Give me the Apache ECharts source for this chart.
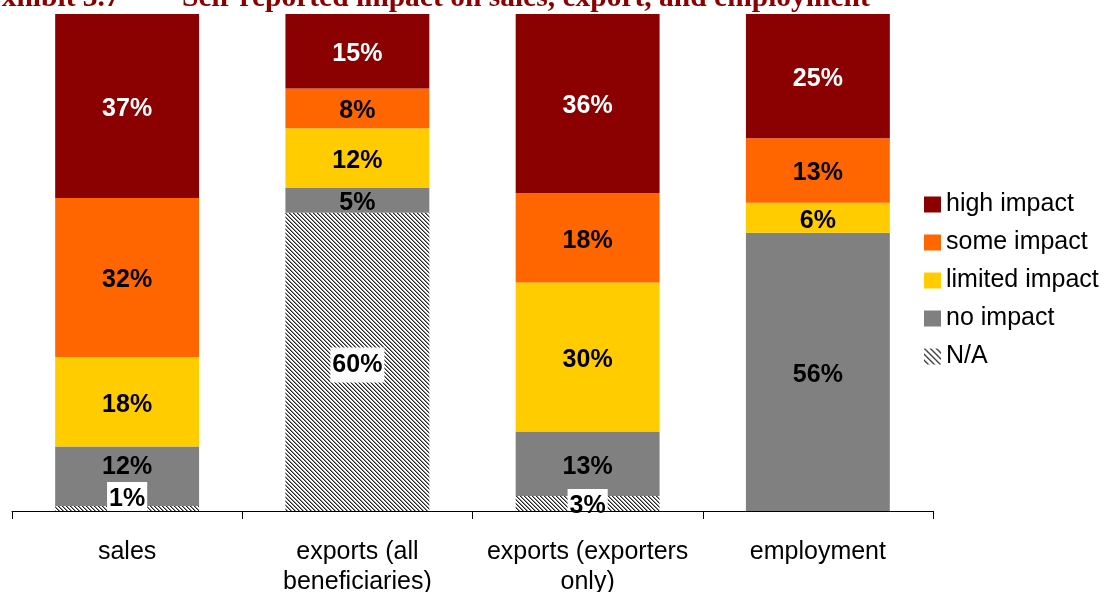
<!DOCTYPE html>
<html>
<head>
<meta charset="utf-8">
<script src="https://cdn.jsdelivr.net/npm/echarts@6/dist/echarts.min.js"></script>
<style>
  html, body { margin: 0; padding: 0; background: #fff; }
  #chart { width: 1105px; height: 592px; }
</style>
</head>
<body>
<div id="chart"></div>
<script>
// Shares of respondents (%) per impact level, bottom of stack first
const categories = ['sales', 'exports (all\nbeneficiaries)', 'exports (exporters\nonly)', 'employment'];
const naValues = [1, 60, 3, 0];
const noImpact = [12, 5, 13, 56];
const limitedImpact = [18, 12, 30, 6];
const someImpact = [32, 8, 18, 13];
const highImpact = [37, 15, 36, 25];
const legendOrder = ['high impact', 'some impact', 'limited impact', 'no impact', 'N/A'];

const FONT = '"Liberation Sans", Arial, sans-serif';
const TITLE_FONT = 'bold 29.5px "Liberation Serif", "Times New Roman", serif';

// Diagonal hatch used for the N/A segments
function makeHatch(period, dark, mid) {
  const c = document.createElement('canvas');
  c.width = period; c.height = period;
  const ctx = c.getContext('2d');
  ctx.fillStyle = '#ffffff';
  ctx.fillRect(0, 0, period, period);
  for (let y = 0; y < period; y++) {
    for (let x = 0; x < period; x++) {
      const m = ((x - y) % period + period) % period;
      if (m === 0) { ctx.fillStyle = dark; ctx.fillRect(x, y, 1, 1); }
      else if (m === 1) { ctx.fillStyle = mid; ctx.fillRect(x, y, 1, 1); }
    }
  }
  return { image: c, repeat: 'repeat' };
}
const hatch = makeHatch(4, '#262626', '#8a8a8a');
const legendHatch = makeHatch(6, '#1e1e1e', '#6a6a6a');

const baseLabel = {
  show: true,
  position: 'inside',
  formatter: '{c}%',
  fontFamily: FONT,
  fontSize: 25,
  fontWeight: 'bold',
  color: '#000',
  offset: [0, 3]
};

function toData(values, extra) {
  return values.map((v, i) => {
    const item = { value: v };
    if (v === 0) item.label = { show: false };
    if (extra && extra[i]) Object.assign(item, extra[i]);
    return item;
  });
}

function barSeries(name, values, color, labelOpts, extra) {
  return {
    name: name,
    type: 'bar',
    stack: 'total',
    barWidth: '62.5%',
    itemStyle: { color: color },
    label: Object.assign({}, baseLabel, labelOpts || {}),
    emphasis: { disabled: true },
    data: toData(values, extra)
  };
}

const chart = echarts.init(document.getElementById('chart'), null, { renderer: 'canvas' });

chart.setOption({
  animation: false,
  backgroundColor: '#ffffff',
  grid: { left: 12, right: 172, top: 14, bottom: 81, containLabel: false, outerBoundsMode: 'none' },
  xAxis: {
    type: 'category',
    data: categories,
    z: 10,
    axisLine: { lineStyle: { color: '#000', width: 1 } },
    axisTick: { show: true, length: 8, lineStyle: { color: '#000' } },
    axisLabel: {
      interval: 0,
      margin: 26,
      fontFamily: FONT,
      fontSize: 25,
      lineHeight: 30,
      color: '#000'
    }
  },
  yAxis: { type: 'value', min: 0, max: 100, show: false },
  legend: {
    orient: 'vertical',
    left: 919,
    top: 187,
    itemWidth: 17,
    itemHeight: 16,
    itemGap: 13,
    icon: 'rect',
    selectedMode: false,
    textStyle: { fontFamily: FONT, fontSize: 25, lineHeight: 25, color: '#000' },
    data: legendOrder.map(n => n === 'N/A' ? { name: n, itemStyle: { color: legendHatch } } : n)
  },
  graphic: [
    {
      type: 'text', left: -18, top: -17, silent: true,
      style: { text: 'Exhibit 3.7', font: TITLE_FONT, fill: '#8b0000' }
    },
    {
      type: 'text', left: 182, top: -17, silent: true,
      style: { text: 'Self-reported impact on sales, export, and employment', font: TITLE_FONT, fill: '#8b0000' }
    }
  ],
  series: [
    barSeries('N/A', naValues, hatch,
      { backgroundColor: '#ffffff', padding: [5, 2] },
      [{ label: { offset: [0, -9] } }, null, { label: { offset: [0, 3] } }, null]),
    barSeries('no impact', noImpact, '#808080', null,
      [{ label: { offset: [0, -9] } }, null, null, null]),
    barSeries('limited impact', limitedImpact, '#ffcc00'),
    barSeries('some impact', someImpact, '#ff6600'),
    barSeries('high impact', highImpact, '#8b0000', { color: '#ffffff' })
  ]
});
</script>
</body>
</html>
